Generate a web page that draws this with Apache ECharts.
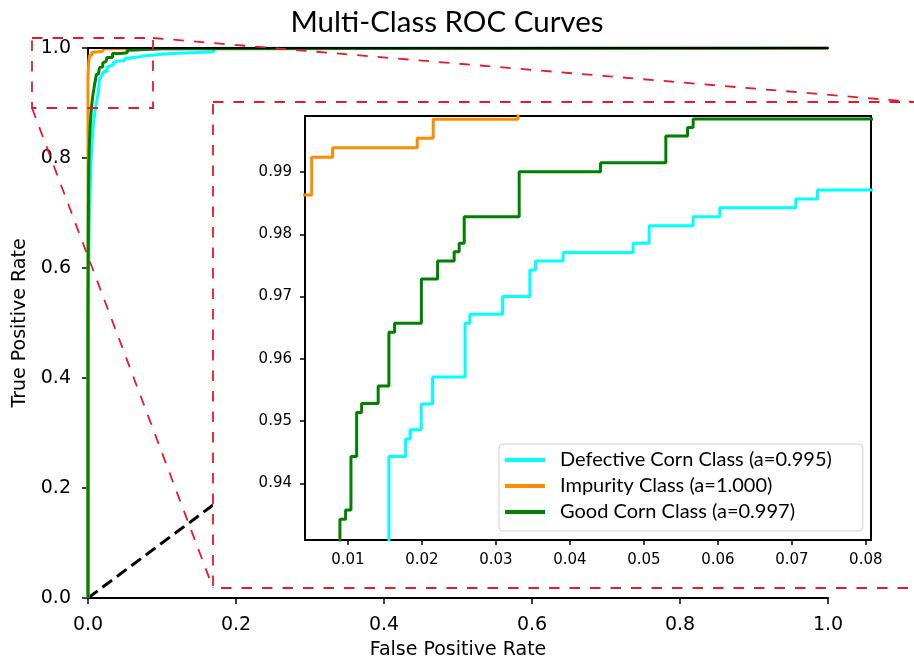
<!DOCTYPE html>
<html><head><meta charset="utf-8">
<script src="https://cdn.jsdelivr.net/npm/echarts@6/dist/echarts.min.js"></script>
<style>html,body{margin:0;padding:0;background:#fff}#c{width:914px;height:665px}</style>
</head><body><div id="c"></div>
<script>
// ---- data ----
const seriesNames = ['Defective Corn Class (a=0.995)', 'Impurity Class (a=1.000)', 'Good Corn Class (a=0.997)'];
const seriesColors = ['#00ffff', '#ff8c00', '#008000'];

const cyanX = [0, 0, 0.001, 0.002, 0.004, 0.006, 0.008, 0.010, 0.012, 0.014, 0.01554, 0.0178, 0.01842, 0.01991, 0.02145, 0.02584, 0.02649, 0.03091, 0.03459, 0.03536, 0.03909, 0.04855, 0.05072, 0.05666, 0.06027, 0.07054, 0.07347, 0.09, 0.10, 0.115, 0.13, 0.15, 0.17, 1.0];
const cyanY = [0, 0.50, 0.60, 0.70, 0.79, 0.84, 0.87, 0.89, 0.905, 0.92, 0.9443, 0.94714, 0.94859, 0.95276, 0.9571, 0.96571, 0.96716, 0.97, 0.97427, 0.97571, 0.97708, 0.97856, 0.98138, 0.98283, 0.98427, 0.98567, 0.98711, 0.989, 0.990, 0.991, 0.992, 0.993, 1.0, 1.0];

const orangeX = [0, 0, 0.001, 0.002, 0.0051, 0.00793, 0.01937, 0.02153, 0.0330, 1.0];
const orangeY = [0, 0.95, 0.975, 0.9863, 0.99236, 0.9939, 0.99541, 0.99846, 1.0, 1.0];

const greenX = [0, 0, 0.0005, 0.001, 0.002, 0.003, 0.004, 0.005, 0.006, 0.007, 0.008, 0.00892, 0.00969, 0.01041, 0.01118, 0.01185, 0.01409, 0.01554, 0.01631, 0.01993, 0.02212, 0.02436, 0.02504, 0.02572, 0.03315, 0.04415, 0.05297, 0.05591, 0.05666, 0.1, 1.0];
const greenY = [0, 0.55, 0.70, 0.78, 0.83, 0.86, 0.88, 0.895, 0.908, 0.918, 0.926, 0.93425, 0.9357, 0.9443, 0.95137, 0.95281, 0.95565, 0.96427, 0.96571, 0.97283, 0.97571, 0.97721, 0.97856, 0.98283, 0.99005, 0.99149, 0.99578, 0.99717, 0.99851, 1.0, 1.0];

// visible part of the chance diagonal (the rest is hidden behind the zoom panel)
const chanceX = [0, 0.169];
const chanceY = [0, 0.169];

const mainTicks = [0, 0.2, 0.4, 0.6, 0.8, 1.0];
const insetXTicks = [0.01, 0.02, 0.03, 0.04, 0.05, 0.06, 0.07, 0.08];
const insetYTicks = [0.94, 0.95, 0.96, 0.97, 0.98, 0.99];
const insetXRange = [0.0042, 0.0807];
const insetYRange = [0.9309, 0.999];

// ---- build ----
function zip(xs, ys) { return xs.map((x, i) => [x, ys[i]]); }
const curves = [zip(cyanX, cyanY), zip(orangeX, orangeY), zip(greenX, greenY)];

const chart = echarts.init(document.getElementById('c'), null, { renderer: 'canvas' });
const TICK_FONT = 'DejaVu Sans';
const RED = '#e8192c';
const DASH = [10.5, 10];

const mainSeries = curves.map((d, i) => ({
  name: seriesNames[i], type: 'line', xAxisIndex: 0, yAxisIndex: 0,
  data: d, step: 'end', symbol: 'none', z: 2,
  lineStyle: { color: seriesColors[i], width: 3 }, itemStyle: { color: seriesColors[i] },
  animation: false
}));
const insetSeries = curves.map((d, i) => ({
  name: seriesNames[i], type: 'line', xAxisIndex: 2, yAxisIndex: 1,
  data: d, step: 'end', symbol: 'none', z: 8, clip: true,
  lineStyle: { color: seriesColors[i], width: 3 }, itemStyle: { color: seriesColors[i] },
  animation: false
}));

const option = {
  animation: false,
  backgroundColor: '#fff',
  grid: [
    { left: 88, top: 48, width: 740, height: 552, containLabel: false },
    { left: 305, top: 116, width: 566, height: 424, show: true, borderColor: '#000', borderWidth: 2, backgroundColor: 'rgba(0,0,0,0)', z: 6 }
  ],
  xAxis: [
    {
      gridIndex: 0, type: 'value', min: mainTicks[0], max: mainTicks[mainTicks.length - 1], interval: 0.2, position: 'bottom',
      axisLine: { lineStyle: { color: '#000', width: 2 } },
      axisTick: { length: 6, lineStyle: { color: '#000', width: 1.5 } },
      axisLabel: { color: '#000', fontFamily: TICK_FONT, fontSize: 19, margin: 18, formatter: v => v.toFixed(1) },
      splitLine: { show: false },
      name: 'False Positive Rate', nameLocation: 'middle', nameGap: 43,
      nameTextStyle: { color: '#000', fontFamily: TICK_FONT, fontSize: 19 }
    },
    {
      gridIndex: 0, type: 'value', min: 0, max: 1, position: 'top',
      axisLine: { show: true, lineStyle: { color: '#000', width: 2 } },
      axisTick: { show: false }, axisLabel: { show: false }, splitLine: { show: false }, z: 3
    },
    {
      gridIndex: 1, type: 'value', min: insetXRange[0], max: insetXRange[1], position: 'bottom', z: 7,
      axisLine: { show: false },
      axisTick: { show: true, customValues: insetXTicks, length: 5, lineStyle: { color: '#000', width: 1.5 } },
      axisLabel: { show: true, customValues: insetXTicks, color: '#000', fontFamily: TICK_FONT, fontSize: 15, margin: 13, formatter: v => v.toFixed(2) },
      splitLine: { show: false }
    }
  ],
  yAxis: [
    {
      gridIndex: 0, type: 'value', min: mainTicks[0], max: mainTicks[mainTicks.length - 1], interval: 0.2,
      axisLine: { show: true, lineStyle: { color: '#000', width: 2 } },
      axisTick: { show: true, length: 6, lineStyle: { color: '#000', width: 1.5 } },
      axisLabel: { color: '#000', fontFamily: TICK_FONT, fontSize: 19, margin: 17, formatter: v => v.toFixed(1) },
      splitLine: { show: false },
      name: 'True Positive Rate', nameLocation: 'middle', nameGap: 57, nameRotate: 90,
      nameTextStyle: { color: '#000', fontFamily: TICK_FONT, fontSize: 19 }
    },
    {
      gridIndex: 1, type: 'value', min: insetYRange[0], max: insetYRange[1], z: 7,
      axisLine: { show: false },
      axisTick: { show: true, customValues: insetYTicks, length: 5, lineStyle: { color: '#000', width: 1.5 } },
      axisLabel: { show: true, customValues: insetYTicks, color: '#000', fontFamily: TICK_FONT, fontSize: 15, margin: 13, formatter: v => v.toFixed(2) },
      splitLine: { show: false }
    }
  ],
  legend: {
    data: seriesNames, orient: 'vertical', left: 499, top: 444, z: 10,
    icon: 'rect', itemWidth: 40, itemHeight: 4, itemGap: 6,
    padding: [6, 31, 9, 6],
    backgroundColor: '#fff', borderColor: '#d0d0d0', borderWidth: 1, borderRadius: 4,
    textStyle: { color: '#000', fontFamily: 'Lato', fontSize: 20, lineHeight: 20, padding: [0, 0, 0, 10] },
    selectedMode: false
  },
  series: [
    {
      name: 'chance', type: 'line', xAxisIndex: 0, yAxisIndex: 0, data: zip(chanceX, chanceY),
      symbol: 'none', z: 2, lineStyle: { color: '#000', width: 3, type: [12, 6] }, silent: true
    },
    ...mainSeries,
    ...insetSeries
  ],
  graphic: [
    { type: 'text', z: 20, style: { text: 'Multi-Class ROC Curves', x: 447, y: 22, textAlign: 'center', textVerticalAlign: 'middle', font: '29.5px Lato', fill: '#000' } },
    { type: 'rect', z: 5, silent: true, shape: { x: 213, y: 102, width: 740, height: 486 }, style: { fill: '#fff' } },
    { type: 'rect', z: 20, silent: true, shape: { x: 213, y: 102, width: 740, height: 486 }, style: { fill: null, stroke: RED, lineWidth: 1.8, lineDash: DASH } },
    { type: 'rect', z: 20, silent: true, shape: { x: 32, y: 38, width: 121, height: 70 }, style: { fill: null, stroke: RED, lineWidth: 1.8, lineDash: DASH } },
    { type: 'line', z: 20, silent: true, shape: { x1: 32, y1: 108, x2: 213, y2: 588 }, style: { stroke: RED, lineWidth: 1.8, lineDash: DASH } },
    { type: 'line', z: 20, silent: true, shape: { x1: 153, y1: 38, x2: 920, y2: 102.5 }, style: { stroke: RED, lineWidth: 1.8, lineDash: DASH } }
  ]
};
chart.setOption(option);
</script>
</body></html>
